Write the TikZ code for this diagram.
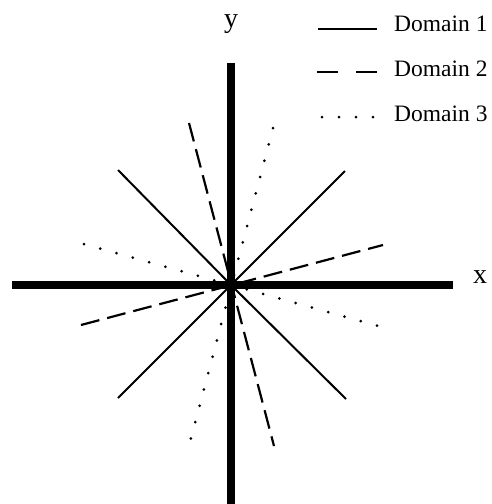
\documentclass[tikz,border=0pt]{standalone}
\usepackage{fontspec}
\setmainfont{Liberation Serif}
\begin{document}
\begin{tikzpicture}[
    x=1pt, y=-1pt,
    axis/.style={line width=7.5pt},
    dom1/.style={line width=2pt},
    dom2/.style={line width=2.2pt, dash pattern=on 19pt off 8pt},
    dom3/.style={line width=3pt, line cap=round, dash pattern=on 0pt off 16.9pt},
    lbl/.style={inner sep=0pt, anchor=base west, font=\fontsize{23.5}{28}\selectfont},
    axlbl/.style={inner sep=0pt, anchor=base, font=\fontsize{28}{32}\selectfont}
]
\useasboundingbox (0,0) rectangle (492,504);

\coordinate (o) at (231,285);

% axes
\coordinate (xl) at (12,285);
\coordinate (xr) at (453,285);
\coordinate (yt) at (231,63);
\coordinate (yb) at (231,504);
\draw[axis] (xl) -- (xr);
\draw[axis] (yt) -- (yb);
\node[axlbl] (xlab) at (480,283) {x};
\node[axlbl] (ylab) at (231,27) {y};

% domain 1
\coordinate (s1) at (118,170);
\coordinate (s2) at (345,171);
\coordinate (s3) at (118,398);
\coordinate (s4) at (346,399);
\draw[dom1] (s1) -- (o) -- (s4);
\draw[dom1] (s2) -- (o) -- (s3);

% domain 2
\coordinate (d1) at (189,123);
\coordinate (d2) at (274,446);
\coordinate (d3) at (81,325);
\coordinate (d4) at (383,245);
\draw[dom2] (d1) -- (d2);
\draw[dom2] (d3) -- (d4);

% domain 3
\coordinate (t1) at (273,128);
\coordinate (t2) at (190,442);
\coordinate (t3) at (84,244);
\coordinate (t4) at (378,326);
\draw[dom3] (t1) -- (t2);
\draw[dom3] (t3) -- (t4);

% legend
\coordinate (l1a) at (318,29);
\coordinate (l1b) at (377,29);
\coordinate (l2a) at (317,72);
\coordinate (l2b) at (377,72);
\coordinate (l3a) at (322,117);
\coordinate (l3b) at (374,117);
\draw[dom1, line width=2.5pt] (l1a) -- (l1b);
\draw[dom2, dash pattern=on 21pt off 18pt] (l2a) -- (l2b);
\draw[dom3, dash pattern=on 0pt off 17pt] (l3a) -- (l3b);
\node[lbl] (leg1) at (394,31.7) {Domain 1};
\node[lbl] (leg2) at (394,76.7) {Domain 2};
\node[lbl] (leg3) at (394,121.7) {Domain 3};

\end{tikzpicture}
\end{document}
